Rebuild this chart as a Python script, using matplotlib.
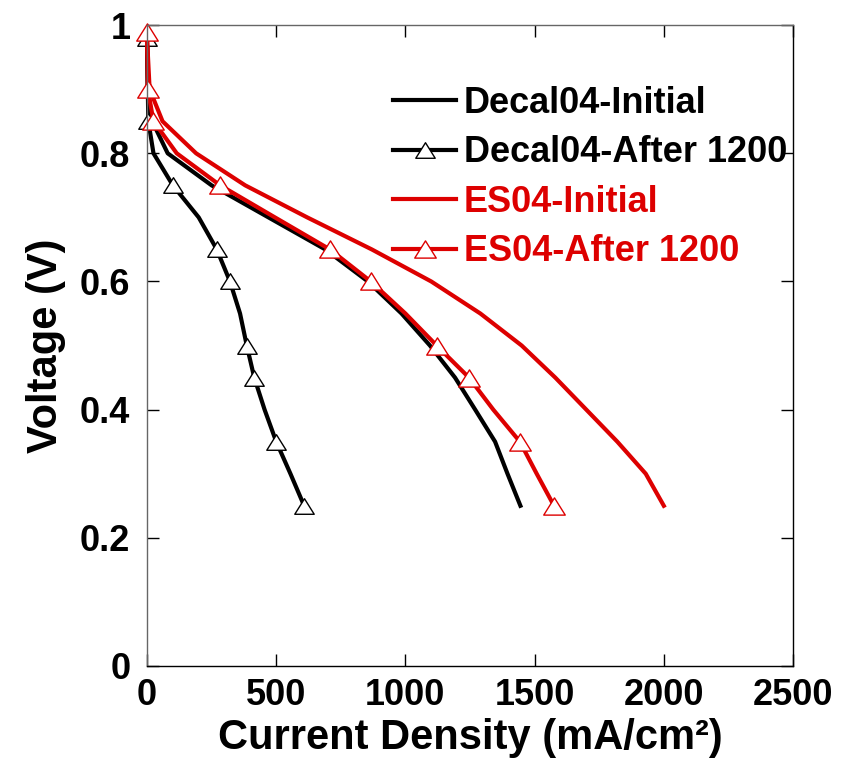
import numpy as np
import matplotlib
matplotlib.use("Agg")
import matplotlib.pyplot as plt
from matplotlib.path import Path
from matplotlib.ticker import FixedLocator, FixedFormatter

plt.rcParams['font.family'] = ['Liberation Sans', 'DejaVu Sans']
plt.rcParams['font.weight'] = 'bold'

voltage = [0.98, 0.9, 0.85, 0.8, 0.75, 0.7, 0.65, 0.6, 0.55, 0.5, 0.45, 0.4, 0.35, 0.3, 0.25]
voltage_es_after = [0.99, 0.9, 0.85, 0.8, 0.75, 0.7, 0.65, 0.6, 0.55, 0.5, 0.45, 0.4, 0.35, 0.3, 0.25]

decal_initial = [0, 3, 20, 80, 250, 470, 690, 855, 985, 1095, 1192, 1270, 1347, 1395, 1445]
decal_after = [0, 3, 5, 25, 100, 200, 270, 321, 360, 386, 415, 455, 500, 555, 608]
es_initial = [0, 10, 60, 190, 380, 620, 870, 1100, 1290, 1450, 1580, 1700, 1820, 1930, 2000]
es_after = [0, 3, 25, 115, 283, 495, 708, 866, 1000, 1121, 1246, 1340, 1443, 1508, 1575]

decal_after_marks = [0, 2, 4, 6, 7, 9, 10, 12, 14]
es_after_marks = [0, 1, 2, 4, 6, 7, 9, 10, 12, 14]

labels = ["Decal04-Initial", "Decal04-After 1200", "ES04-Initial", "ES04-After 1200"]

xticks = [0, 500, 1000, 1500, 2000, 2500]
yticks = [0, 0.2, 0.4, 0.6, 0.8, 1.0]
ytick_labels = ["0", "0.2", "0.4", "0.6", "0.8", "1"]

red = '#DD0000'
# flattened open triangle
tri = Path([(-1, -0.8), (1, -0.8), (0, 0.8), (-1, -0.8)],
           [Path.MOVETO, Path.LINETO, Path.LINETO, Path.CLOSEPOLY])

fig = plt.figure(figsize=(8.44, 7.62), dpi=100)
ax = fig.add_axes([0.1742, 0.126, 0.7654, 0.841])

ax.plot(decal_initial, voltage, color='black', lw=3, label=labels[0], clip_on=False)
ax.plot(decal_after, voltage, color='black', lw=3, marker=tri, ms=14,
        mfc='white', mec='black', mew=1, markevery=decal_after_marks,
        label=labels[1], clip_on=False)
ax.plot(es_initial, voltage, color=red, lw=3, label=labels[2], clip_on=False)
ax.plot(es_after, voltage_es_after, color=red, lw=3, marker=tri, ms=15.5,
        mfc='white', mec=red, mew=1, markevery=es_after_marks,
        label=labels[3], clip_on=False)

ax.set_xlim(0, 2500)
ax.set_ylim(0, 1)
ax.xaxis.set_major_locator(FixedLocator(xticks))
ax.yaxis.set_major_locator(FixedLocator(yticks))
ax.yaxis.set_major_formatter(FixedFormatter(ytick_labels))

ax.tick_params(direction='in', length=8.5, width=1, top=True, right=True,
               labelsize=26)
ax.tick_params(axis='x', pad=9)
ax.tick_params(axis='y', pad=12)
for lab in ax.get_xticklabels() + ax.get_yticklabels():
    lab.set_fontweight('bold')

for side in ['left', 'top']:
    ax.spines[side].set_color('#666666')
for side in ['right', 'bottom']:
    ax.spines[side].set_color('black')
for s in ax.spines.values():
    s.set_linewidth(1)

ax.set_xlabel("Current Density (mA/cm²)", fontsize=30, fontweight='bold')
ax.xaxis.set_label_coords(0.5, -0.112)
ax.xaxis.label.set_va('center')
ax.set_ylabel("Voltage (V)", fontsize=30, fontweight='bold', labelpad=10)

leg = ax.legend(loc='upper left', bbox_to_anchor=(0.381, 0.905), frameon=False,
                fontsize=26, handlelength=1.75, handletextpad=0.2,
                labelspacing=0.4, borderpad=0, borderaxespad=0)
for txt, c in zip(leg.get_texts(), ['black', 'black', red, red]):
    txt.set_color(c)
    txt.set_fontweight('bold')

fig.savefig("out.png", dpi=100)
